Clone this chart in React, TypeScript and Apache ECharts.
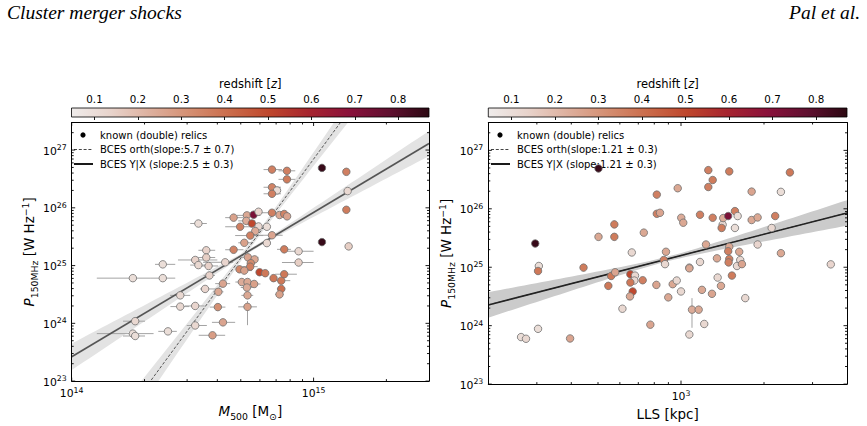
import React, { useEffect, useRef } from "react";
import * as echarts from "echarts";

// ---------- colour bar (redshift) ----------
const zTicks = [0.1, 0.2, 0.3, 0.4, 0.5, 0.6, 0.7, 0.8];
const Z_MIN = 0.047;
const Z_MAX = 0.871;
const cmapColors = ["#efeceb", "#e8d3cb", "#ddaf9d", "#d48e71", "#ca6b4a", "#be462c", "#a6242f", "#8a113b", "#601030", "#2c0812"];

// ---------- left panel: P150 vs M500 ----------
// M500 in units of 1e14 Msun, P150 in units of 1e24 W/Hz
const massM500 = [6.73, 7.76, 7.76, 6.73, 7.06, 6.73, 10.83, 13.66, 13.83, 13.66,
  10.83, 13.96, 3.34, 4.67, 5.30, 5.65, 5.92, 6.73, 7.23, 7.56,
  7.77, 5.27, 5.56, 4.97, 5.92, 6.41, 5.74, 5.47, 6.73, 5.17,
  6.41, 4.67, 7.56, 8.67, 3.60, 5.35, 5.70, 4.31, 3.60, 3.24,
  2.38, 8.67, 5.50, 5.47, 3.34, 3.68, 4.94, 5.17, 5.98, 6.31,
  6.83, 7.35, 7.56, 7.35, 7.23, 1.79, 2.38, 3.71, 5.05, 5.33,
  5.68, 4.22, 5.30, 3.56, 4.04, 5.33, 2.81, 2.81, 3.24, 4.02,
  5.33, 1.83, 4.22, 3.24, 2.50, 1.79, 1.83, 3.82];
const massP150 = [459, 437, 311, 227, 200, 175, 491, 420, 195, 92.5,
  25.5, 21.5, 53.5, 67.6, 74.0, 76.0, 85.5, 82.2, 75.2, 78.2,
  71.2, 59.4, 53.5, 47.0, 47.6, 47.0, 39.6, 33.1, 33.5, 24.8,
  24.5, 18.8, 19.1, 17.7, 18.4, 13.9, 12.8, 11.4, 13.8, 12.5,
  10.5, 11.3, 11.0, 9.58, 10.2, 9.85, 8.62, 8.19, 7.67, 7.38,
  6.06, 5.48, 7.09, 3.94, 3.17, 6.06, 6.06, 6.74, 5.19, 5.19,
  4.80, 4.87, 4.17, 3.94, 3.51, 3.05, 3.05, 1.95, 2.00, 1.91,
  1.93, 1.09, 1.04, 0.918, 0.726, 0.664, 0.604, 0.621];
const massZ = [0.36, 0.36, 0.37, 0.35, 0.10, 0.36, 0.85, 0.36, 0.12, 0.37,
  0.85, 0.15, 0.10, 0.27, 0.25, 0.72, 0.13, 0.36, 0.25, 0.35,
  0.26, 0.24, 0.50, 0.36, 0.12, 0.10, 0.24, 0.36, 0.26, 0.27,
  0.12, 0.35, 0.37, 0.12, 0.14, 0.26, 0.25, 0.13, 0.15, 0.14,
  0.10, 0.15, 0.33, 0.36, 0.12, 0.14, 0.34, 0.27, 0.50, 0.38,
  0.38, 0.38, 0.38, 0.40, 0.27, 0.10, 0.10, 0.14, 0.24, 0.25,
  0.27, 0.26, 0.24, 0.13, 0.25, 0.25, 0.12, 0.12, 0.13, 0.32,
  0.27, 0.12, 0.26, 0.12, 0.10, 0.10, 0.10, 0.28];
const massErrLo = [0.52, 0.60, 0.60, 0.52, 0, 0.52, 0, 0, 0, 0,
  0, 0, 0.25, 0.36, 0.48, 0, 0, 0.71, 0, 0.50,
  0, 0.39, 0.43, 0.66, 0, 0, 0, 0.73, 0.71, 0.29,
  0, 0.36, 0.50, 0.90, 0.26, 0.47, 0, 0.82, 0.30, 0.49,
  0.17, 1.27, 0, 0.40, 0.25, 0.30, 0, 0.35, 0, 0,
  0, 0.54, 0.62, 0.30, 0.30, 0.52, 0.27, 0.20, 0.30, 0.30,
  0.30, 0.30, 0.30, 0.17, 0.20, 0.30, 0.26, 0.25, 0.30, 0.30,
  0.45, 0.20, 0.42, 0.25, 0.22, 0.52, 0.20, 0.47];
const massErrHi = [0.67, 0.64, 0.64, 0.60, 0, 0.60, 0, 0, 0, 0,
  0, 0, 0.28, 0.46, 0.72, 0, 0, 1.03, 0, 0.45,
  0, 0.47, 0.46, 0.66, 0, 0, 0, 0.72, 0.72, 0.46,
  0, 0.46, 0.50, 1.33, 0.32, 0.57, 0, 0.34, 0.32, 0.76,
  0.30, 1.33, 0, 0.40, 0.25, 0.35, 0, 0.40, 0, 0,
  0, 0.66, 0.97, 0.30, 0.30, 0.32, 0.30, 0.20, 0.30, 0.30,
  0.35, 0.30, 0.30, 0.42, 0.20, 0.30, 0.28, 0.25, 0.30, 0.30,
  0.50, 0.18, 0.52, 0.38, 0.22, 0.39, 0.18, 0.49];
// [point index, lower, upper] power errors in 1e24 W/Hz
const massPowerErr = [[70, 1.0, 0.5]];

// ---------- right panel: P150 vs LLS ----------
const llsKpc = [296, 305, 502, 502, 573, 573, 733, 663, 443, 817,
  817, 839, 882, 866, 875, 973, 1002, 1019, 1072, 1172,
  1172, 1232, 1256, 1303, 1256, 1303, 1350, 1416, 1423, 1404,
  1483, 1496, 1569, 1569, 1605, 1496, 1483, 1496, 1488, 1626,
  1640, 1596, 1663, 1804, 1804, 1896, 1896, 2132, 2196, 2303,
  2303, 2483, 3494, 303, 558, 577, 545, 655, 681, 677,
  655, 726, 668, 653, 613, 814, 933, 965, 1000, 899,
  1072, 1096, 1159, 1072, 1191, 1214, 1295, 1358, 1396, 1530,
  1710, 774, 303, 263, 274, 396];
const llsP150 = [25.5, 10.5, 491, 33.1, 54.1, 33.1, 39.1, 17.9, 9.85, 175,
  82.2, 85.5, 18.4, 13.3, 11.3, 225, 70.3, 57.8, 9.85, 12.3,
  79.1, 24.5, 459, 311, 236, 70.3, 14.2, 53.5, 69.5, 47.0,
  75.2, 437, 47.0, 91.4, 75.2, 22.4, 18.8, 13.8, 12.1, 18.4,
  13.3, 10.5, 11.3, 197, 64.3, 71.2, 24.5, 47.0, 75.2, 195,
  17.4, 420, 11.2, 8.62, 7.09, 8.19, 4.80, 7.57, 7.20, 5.92,
  5.48, 5.99, 3.85, 3.17, 1.95, 4.99, 5.13, 5.92, 3.85, 3.05,
  9.58, 1.88, 1.88, 0.706, 4.10, 1.07, 3.51, 6.66, 4.80, 7.20,
  2.96, 1.04, 0.883, 0.638, 0.597, 0.604];
const llsZ = [0.85, 0.10, 0.85, 0.25, 0.37, 0.37, 0.25, 0.12, 0.37, 0.36,
  0.36, 0.26, 0.25, 0.36, 0.12, 0.25, 0.24, 0.25, 0.12, 0.12,
  0.36, 0.25, 0.36, 0.37, 0.36, 0.36, 0.25, 0.12, 0.24, 0.37,
  0.72, 0.37, 0.10, 0.36, 0.10, 0.25, 0.36, 0.36, 0.36, 0.25,
  0.12, 0.12, 0.26, 0.26, 0.25, 0.25, 0.13, 0.12, 0.36, 0.10,
  0.25, 0.38, 0.13, 0.38, 0.38, 0.26, 0.38, 0.50, 0.12, 0.12,
  0.38, 0.36, 0.50, 0.25, 0.12, 0.26, 0.25, 0.12, 0.12, 0.25,
  0.25, 0.24, 0.25, 0.12, 0.25, 0.12, 0.26, 0.12, 0.25, 0.37,
  0.12, 0.26, 0.10, 0.10, 0.12, 0.26];
const llsPowerErr = [[71, 0.96, 1.08], [81, 0.12, 0.15]];

// ---------- BCES fits: [slope, pivot x, power at pivot (W/Hz), band sa, band sb] ----------
const massFitYX = [2.5, 5.75e14, 2.09e25, 0.03, 0.3];
const massFitOrth = [5.7, 5.75e14, 2.98e25, 0.05, 0.45];
const llsFitYX = [1.21, 891, 1.38e25, 0.04, 0.33];
const llsFitOrth = [1.21, 891, 1.38e25, 0.04, 0.33];

// ---------- axis ranges & ticks ----------
const massRange = [1e14, 3e15];
const llsRange = [200, 4000];
const powerRange = [1e23, 3e27];
const massMajor = [1e14, 1e15];
const massMinor = [2e14, 3e14, 4e14, 5e14, 6e14, 7e14, 8e14, 9e14, 2e15];
const llsMajor = [1e3];
const llsMinor = [300, 400, 500, 600, 700, 800, 900, 2000, 3000];
const powerMajor = [1e23, 1e24, 1e25, 1e26, 1e27];
const powerMinor = [2e23, 3e23, 4e23, 5e23, 6e23, 7e23, 8e23, 9e23,
  2e24, 3e24, 4e24, 5e24, 6e24, 7e24, 8e24, 9e24,
  2e25, 3e25, 4e25, 5e25, 6e25, 7e25, 8e25, 9e25,
  2e26, 3e26, 4e26, 5e26, 6e26, 7e26, 8e26, 9e26, 2e27];

const FONT = "'DejaVu Sans', Verdana, sans-serif";
const SERIF = "'Liberation Serif', 'Times New Roman', serif";

function fitLine(fit: number[], xr: number[]) {
  const [slope, px, py] = fit;
  return xr.map((x) => [x, py * Math.pow(x / px, slope)]);
}

function fitBand(fit: number[], xr: number[]) {
  const [slope, px, py, sa, sb] = fit;
  const l0 = Math.log10(xr[0]);
  const l1 = Math.log10(xr[1]);
  const lp = Math.log10(px);
  const lyp = Math.log10(py);
  const up: number[][] = [];
  const lo: number[][] = [];
  const n = 60;
  for (let i = 0; i <= n; i++) {
    const lx = l0 + ((l1 - l0) * i) / n;
    const d = lx - lp;
    const ly = lyp + slope * d;
    const w = Math.sqrt(sa * sa + sb * sb * d * d);
    up.push([Math.pow(10, lx), Math.pow(10, ly + w)]);
    lo.push([Math.pow(10, lx), Math.pow(10, ly - w)]);
  }
  return up.concat(lo.reverse());
}

const powLabel = (v: number) => {
  const e = Math.log10(v);
  const r = Math.round(e);
  return Math.abs(e - r) < 1e-6 ? `{b|10}{s|${r}}` : "";
};

const tickRich = {
  b: { fontSize: 10.8, fontFamily: FONT, color: "#000", lineHeight: 13, verticalAlign: "bottom" },
  s: { fontSize: 7.8, fontFamily: FONT, color: "#000", lineHeight: 13, verticalAlign: "bottom", padding: [0, 0, 5, 0] },
};

const nameRich = {
  n: { fontSize: 13.5, fontFamily: FONT, color: "#000", lineHeight: 16, verticalAlign: "bottom", padding: [0, 0, 3, 0] },
  i: { fontSize: 13.5, fontFamily: FONT, fontStyle: "italic", color: "#000", lineHeight: 16, verticalAlign: "bottom", padding: [0, 0, 3, 0] },
  sub: { fontSize: 9.3, fontFamily: FONT, color: "#000", lineHeight: 16, verticalAlign: "bottom" },
  sup: { fontSize: 9.3, fontFamily: FONT, color: "#000", lineHeight: 16, verticalAlign: "bottom", padding: [0, 0, 9, 0] },
};

const frameLine = { show: true, lineStyle: { color: "#000", width: 1 } };

function logAxis(gridIndex: number, range: number[], position: string, main: boolean, extra: any = {}) {
  return {
    type: "log",
    logBase: 10,
    gridIndex,
    position,
    min: range[0],
    max: range[1],
    z: 6,
    axisLine: frameLine,
    axisTick: { show: false },
    splitLine: { show: false },
    minorTick: { show: false },
    axisLabel: main
      ? { show: true, formatter: powLabel, rich: tickRich, margin: 5 }
      : { show: false },
    ...extra,
  };
}

function tickSeries(xi: number, yi: number, xMaj: number[], xMin: number[], xr: number[], yMaj: number[], yMin: number[], yr: number[]) {
  return {
    type: "custom",
    xAxisIndex: xi,
    yAxisIndex: yi,
    silent: true,
    z: 6,
    data: [[xr[0], yr[0]]],
    renderItem: (params: any, api: any) => {
      const children: any[] = [];
      const st = { stroke: "#000", lineWidth: 0.9 };
      const add = (p: number[], dx: number, dy: number) =>
        children.push({ type: "line", shape: { x1: p[0], y1: p[1], x2: p[0] + dx, y2: p[1] + dy }, style: st });
      const MAJ = 3.5;
      const MIN = 2;
      xMaj.forEach((v) => { add(api.coord([v, yr[0]]), 0, -MAJ); add(api.coord([v, yr[1]]), 0, MAJ); });
      xMin.forEach((v) => { add(api.coord([v, yr[0]]), 0, -MIN); add(api.coord([v, yr[1]]), 0, MIN); });
      yMaj.forEach((v) => { add(api.coord([xr[0], v]), MAJ, 0); add(api.coord([xr[1], v]), -MAJ, 0); });
      yMin.forEach((v) => { add(api.coord([xr[0], v]), MIN, 0); add(api.coord([xr[1], v]), -MIN, 0); });
      return { type: "group", children };
    },
  };
}

function bandSeries(xi: number, yi: number, pts: number[][], fill: string, start: number[]) {
  return {
    type: "custom",
    xAxisIndex: xi,
    yAxisIndex: yi,
    clip: true,
    silent: true,
    z: 1,
    data: [start],
    renderItem: (params: any, api: any) => ({
      type: "polygon",
      shape: { points: pts.map((p) => api.coord(p)) },
      style: { fill },
    }),
  };
}

function errorSeries(xi: number, yi: number, rows: number[][]) {
  return {
    type: "custom",
    xAxisIndex: xi,
    yAxisIndex: yi,
    clip: true,
    silent: true,
    z: 2,
    encode: { x: 0, y: 1 },
    data: rows,
    renderItem: (params: any, api: any) => {
      const x = api.value(0);
      const y = api.value(1);
      const xl = api.value(2);
      const xh = api.value(3);
      const yl = api.value(4);
      const yh = api.value(5);
      const st = { stroke: "#a3a3a3", lineWidth: 1 };
      const children: any[] = [];
      if (xl !== xh) {
        const a = api.coord([xl, y]);
        const b = api.coord([xh, y]);
        children.push({ type: "line", shape: { x1: a[0], y1: a[1], x2: b[0], y2: b[1] }, style: st });
      }
      if (yl !== yh) {
        const a = api.coord([x, yl]);
        const b = api.coord([x, yh]);
        children.push({ type: "line", shape: { x1: a[0], y1: a[1], x2: b[0], y2: b[1] }, style: st });
      }
      return { type: "group", children };
    },
  };
}

function colorbarSeries(xi: number, yi: number) {
  return {
    type: "custom",
    xAxisIndex: xi,
    yAxisIndex: yi,
    silent: true,
    z: 2,
    data: [[Z_MIN, 0]],
    renderItem: (params: any, api: any) => {
      const a = api.coord([Z_MIN, 0]);
      const b = api.coord([Z_MAX, 1]);
      return {
        type: "rect",
        shape: { x: a[0], y: b[1], width: b[0] - a[0], height: a[1] - b[1] },
        style: {
          fill: {
            type: "linear", x: 0, y: 0, x2: 1, y2: 0,
            colorStops: cmapColors.map((c, i) => ({ offset: i / (cmapColors.length - 1), color: c })),
          },
          stroke: "#000",
          lineWidth: 0.8,
        },
      };
    },
  };
}

function colorbarAxes(gridIndex: number) {
  return {
    x: {
      type: "value",
      gridIndex,
      position: "top",
      min: Z_MIN,
      max: Z_MAX,
      z: 6,
      axisLine: { show: false },
      splitLine: { show: false },
      axisTick: { show: true, inside: true, length: 3, customValues: zTicks, lineStyle: { color: "#000", width: 0.9 } },
      axisLabel: { show: true, customValues: zTicks, formatter: (v: number) => v.toFixed(1), margin: 4, fontSize: 10.3, fontFamily: FONT, color: "#000" },
      name: "{n|redshift [}{i|z}{n|]}",
      nameLocation: "middle",
      nameGap: 18,
      nameTextStyle: {
        rich: {
          n: { fontSize: 11.5, fontFamily: FONT, color: "#000" },
          i: { fontSize: 11.5, fontFamily: FONT, fontStyle: "italic", color: "#000" },
        },
      },
    },
    y: { type: "value", gridIndex, min: 0, max: 1, show: false },
  };
}

function legendGraphics(x0: number, orthText: string, yxText: string) {
  const font = `10px ${FONT}`;
  const rows = [135, 149.5, 164];
  const texts = ["known (double) relics", orthText, yxText];
  const els: any[] = [
    { type: "circle", shape: { cx: x0 + 9, cy: rows[0], r: 2.6 }, style: { fill: "#000" } },
    { type: "line", shape: { x1: x0, y1: rows[1], x2: x0 + 19, y2: rows[1] }, style: { stroke: "#444", lineWidth: 1, lineDash: [3, 1.8] } },
    { type: "line", shape: { x1: x0, y1: rows[2], x2: x0 + 19, y2: rows[2] }, style: { stroke: "#1a1a1a", lineWidth: 2 } },
  ];
  texts.forEach((t, i) => {
    els.push({
      type: "text",
      x: x0 + 26,
      y: rows[i],
      style: { text: t, font, fill: "#000", textVerticalAlign: "middle", verticalAlign: "middle" },
    });
  });
  return els;
}

export default function App() {
  const ref = useRef<HTMLDivElement>(null);

  useEffect(() => {
    if (!ref.current) return;
    const chart = echarts.init(ref.current, null, { renderer: "svg" });

    const massPts = massM500.map((m, i) => [m * 1e14, massP150[i] * 1e24, massZ[i]]);
    const llsPts = llsKpc.map((l, i) => [l, llsP150[i] * 1e24, llsZ[i]]);

    const massErrRows: number[][] = [];
    massM500.forEach((m, i) => {
      const pe = massPowerErr.find((r) => r[0] === i);
      const p = massP150[i];
      const hasX = massErrLo[i] > 0 || massErrHi[i] > 0;
      if (!hasX && !pe) return;
      massErrRows.push([
        m * 1e14, p * 1e24,
        (m - massErrLo[i]) * 1e14, (m + massErrHi[i]) * 1e14,
        pe ? (p - pe[1]) * 1e24 : p * 1e24, pe ? (p + pe[2]) * 1e24 : p * 1e24,
      ]);
    });
    const llsErrRows = llsPowerErr.map(([i, lo, hi]) => [
      llsKpc[i], llsP150[i] * 1e24, llsKpc[i], llsKpc[i],
      (llsP150[i] - lo) * 1e24, (llsP150[i] + hi) * 1e24,
    ]);

    const cbL = colorbarAxes(2);
    const cbR = colorbarAxes(3);

    const yName = "{i|P}{sub|150MHz}{n| [W Hz}{sup|−1}{n|]}";

    const option: any = {
      animation: false,
      backgroundColor: "#ffffff",
      textStyle: { fontFamily: FONT },
      grid: [
        { left: 71.7, top: 122.5, width: 357.3, height: 264.2 },
        { left: 488.3, top: 122.5, width: 358.7, height: 264.2 },
        { left: 71.5, top: 108, width: 357.5, height: 9 },
        { left: 488.3, top: 108, width: 358.7, height: 9 },
      ],
      xAxis: [
        logAxis(0, massRange, "bottom", true, {
          name: "{i|M}{sub|500}{n| [M}{sub|⊙}{n|]}",
          nameLocation: "middle",
          nameGap: 15,
          nameTextStyle: { rich: nameRich },
        }),
        logAxis(0, massRange, "top", false),
        logAxis(1, llsRange, "bottom", true, {
          name: "LLS [kpc]",
          nameLocation: "middle",
          nameGap: 17,
          nameTextStyle: { fontSize: 13.5, fontFamily: FONT, color: "#000" },
        }),
        logAxis(1, llsRange, "top", false),
        cbL.x,
        cbR.x,
      ],
      yAxis: [
        logAxis(0, powerRange, "left", true, {
          name: yName, nameLocation: "middle", nameRotate: 90, nameGap: 31,
          nameTextStyle: { rich: nameRich },
        }),
        logAxis(0, powerRange, "right", false),
        logAxis(1, powerRange, "left", true, {
          name: yName, nameLocation: "middle", nameRotate: 90, nameGap: 32,
          nameTextStyle: { rich: nameRich },
        }),
        logAxis(1, powerRange, "right", false),
        cbL.y,
        cbR.y,
      ],
      visualMap: {
        type: "continuous",
        show: false,
        min: Z_MIN,
        max: Z_MAX,
        dimension: 2,
        seriesIndex: [9, 10],
        inRange: { color: cmapColors },
      },
      series: [
        bandSeries(0, 0, fitBand(massFitYX, massRange), "#e3e3e3", [massRange[0], powerRange[0]]),
        bandSeries(0, 0, fitBand(massFitOrth, massRange), "#e3e3e3", [massRange[0], powerRange[0]]),
        bandSeries(2, 2, fitBand(llsFitYX, llsRange), "#cbcbcb", [llsRange[0], powerRange[0]]),
        errorSeries(0, 0, massErrRows),
        errorSeries(2, 2, llsErrRows),
        {
          type: "line", xAxisIndex: 0, yAxisIndex: 0, z: 3, silent: true, symbol: "none", clip: true,
          data: fitLine(massFitOrth, massRange),
          lineStyle: { color: "#333", width: 0.8, type: [3, 1.8] },
        },
        {
          type: "line", xAxisIndex: 0, yAxisIndex: 0, z: 3, silent: true, symbol: "none", clip: true,
          data: fitLine(massFitYX, massRange),
          lineStyle: { color: "#555", width: 1.6 },
        },
        {
          type: "line", xAxisIndex: 2, yAxisIndex: 2, z: 3, silent: true, symbol: "none", clip: true,
          data: fitLine(llsFitOrth, llsRange),
          lineStyle: { color: "#333", width: 0.8, type: [3, 1.8] },
        },
        {
          type: "line", xAxisIndex: 2, yAxisIndex: 2, z: 3, silent: true, symbol: "none", clip: true,
          data: fitLine(llsFitYX, llsRange),
          lineStyle: { color: "#222", width: 1.6 },
        },
        {
          type: "scatter", xAxisIndex: 0, yAxisIndex: 0, z: 4, symbol: "circle", symbolSize: 7.5,
          data: massPts,
          itemStyle: { borderColor: "#707070", borderWidth: 0.8, opacity: 1 },
        },
        {
          type: "scatter", xAxisIndex: 2, yAxisIndex: 2, z: 4, symbol: "circle", symbolSize: 7.5,
          data: llsPts,
          itemStyle: { borderColor: "#707070", borderWidth: 0.8, opacity: 1 },
        },
        tickSeries(0, 0, massMajor, massMinor, massRange, powerMajor, powerMinor, powerRange),
        tickSeries(2, 2, llsMajor, llsMinor, llsRange, powerMajor, powerMinor, powerRange),
        colorbarSeries(4, 4),
        colorbarSeries(5, 5),
      ],
      graphic: [
        { type: "text", left: 7, top: 2, style: { text: "Cluster merger shocks", font: `italic 19.5px ${SERIF}`, fill: "#000" } },
        { type: "text", right: 7, top: 2, style: { text: "Pal et al.", font: `italic 19.5px ${SERIF}`, fill: "#000" } },
        ...legendGraphics(74, "BCES orth(slope:5.7 ± 0.7)", "BCES Y|X (slope:2.5 ± 0.3)"),
        ...legendGraphics(491, "BCES orth(slope:1.21 ± 0.3)", "BCES Y|X (slope:1.21 ± 0.3)"),
      ],
    };

    chart.setOption(option);
    return () => chart.dispose();
  }, []);

  return (
    <div
      ref={ref}
      style={{ position: "absolute", left: 0, top: 0, width: 867, height: 426, background: "#fff" }}
    />
  );
}
